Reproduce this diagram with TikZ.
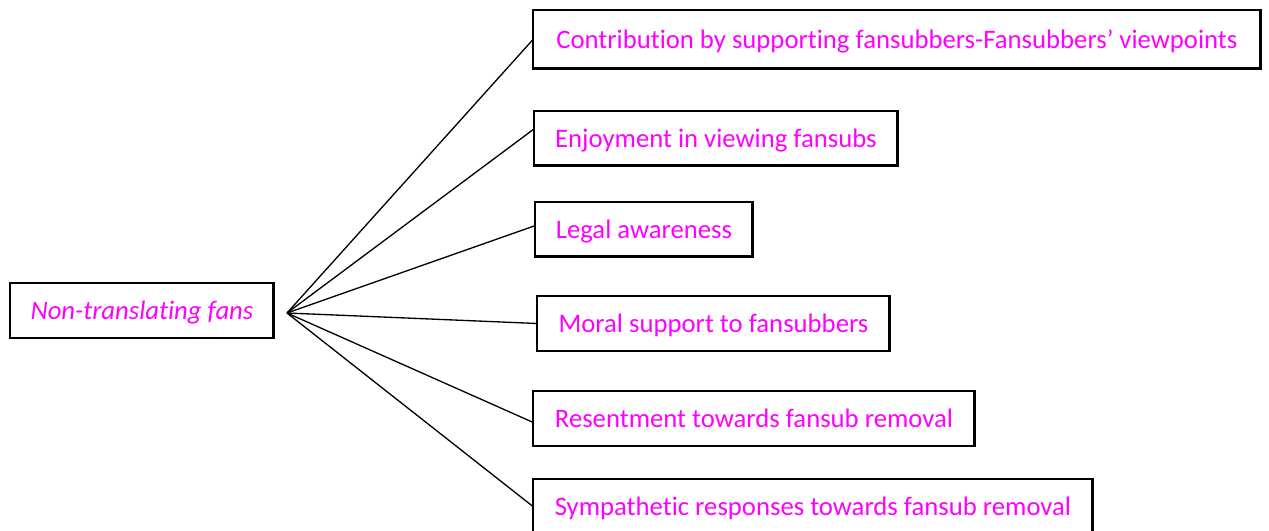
\documentclass[tikz,border=0pt]{standalone}
\usepackage{fontspec}
\setmainfont{Carlito}[Ligatures=NoCommon]
\usetikzlibrary{positioning}
\definecolor{labelpink}{RGB}{255,0,255}

\tikzset{
    themebox/.style={draw, line width=1.7pt, anchor=north west, inner sep=0pt, outer sep=0pt,
        minimum height=1.1cm, text depth=0pt, text=labelpink, font=\fontsize{15.2}{18}\selectfont},
    fanline/.style={line width=0.75pt}
}

\begin{document}
\begin{tikzpicture}[x=0.02cm, y=-0.02cm]
    \useasboundingbox (0,0) rectangle (1269,531);

    \node[themebox, minimum width=5.28cm] (fans) at (10,283) {\itshape Non-translating fans};
    \coordinate (hub) at (287,313);

    \node[themebox, minimum width=14.56cm, minimum height=1.18cm] (c1) at (533,10) {Contribution by supporting fansubbers-Fansubbers’ viewpoints};
    \node[themebox, minimum width=7.28cm] (c2) at (534,111) {Enjoyment in viewing fansubs};
    \node[themebox, minimum width=4.36cm] (c3) at (535,202) {Legal awareness};
    \node[themebox, minimum width=7.06cm] (c4) at (537,296) {Moral support to fansubbers};
    \node[themebox, minimum width=8.84cm] (c5) at (533,391) {Resentment towards fansub removal};
    \node[themebox, minimum width=11.2cm] (c6) at (533,479) {Sympathetic responses towards fansub removal};

    \draw[fanline] (hub) -- (c1.west);
    \draw[fanline] (hub) -- (c2.177);
    \draw[fanline] (hub) -- (c3.178);
    \draw[fanline] (hub) -- (c4.west);
    \draw[fanline] (hub) -- (c5.181);
    \draw[fanline] (hub) -- (c6.west);
\end{tikzpicture}
\end{document}
